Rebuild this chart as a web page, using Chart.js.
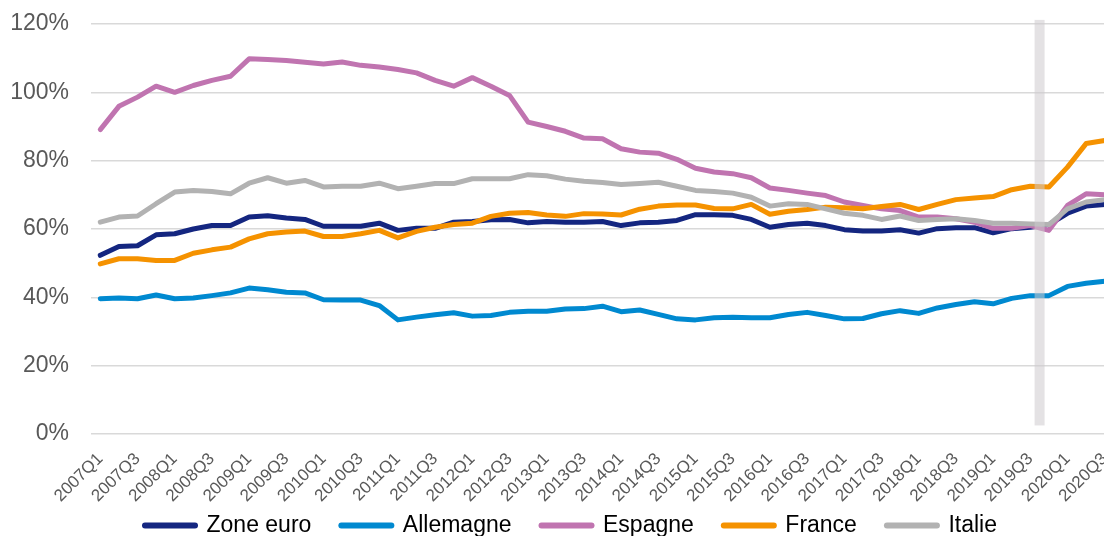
<html lang="fr">
<head>
    <meta charset="UTF-8"/>
    <title>Dette publique</title>
    <script src="https://cdn.jsdelivr.net/npm/chart.js@4.4.1/dist/chart.umd.min.js"></script>
    <style>
        html, body { margin: 0; padding: 0; background: #ffffff; overflow: hidden; }
        #wrap { position: absolute; left: 0; top: 0; }
    </style>
</head>
<body>
<div id="wrap">
    <canvas id="myChart" width="1114" height="567"></canvas>
</div>
<script>
    const quarters = [
        '2007Q1', '2007Q2', '2007Q3', '2007Q4', '2008Q1', '2008Q2', '2008Q3', '2008Q4',
        '2009Q1', '2009Q2', '2009Q3', '2009Q4', '2010Q1', '2010Q2', '2010Q3', '2010Q4',
        '2011Q1', '2011Q2', '2011Q3', '2011Q4', '2012Q1', '2012Q2', '2012Q3', '2012Q4',
        '2013Q1', '2013Q2', '2013Q3', '2013Q4', '2014Q1', '2014Q2', '2014Q3', '2014Q4',
        '2015Q1', '2015Q2', '2015Q3', '2015Q4', '2016Q1', '2016Q2', '2016Q3', '2016Q4',
        '2017Q1', '2017Q2', '2017Q3', '2017Q4', '2018Q1', '2018Q2', '2018Q3', '2018Q4',
        '2019Q1', '2019Q2', '2019Q3', '2019Q4', '2020Q1', '2020Q2', '2020Q3'
    ];

    const zoneEuro = [
        52.3, 54.9, 55.1, 58.3, 58.6, 60.0, 61.0, 61.0, 63.5, 63.9, 63.2, 62.8, 60.8, 60.8, 60.8,
        61.7, 59.6, 60.2, 60.2, 62.0, 62.2, 62.7, 62.8, 61.8, 62.2, 62.0, 62.0, 62.2, 61.0, 61.8,
        62.0, 62.5, 64.2, 64.2, 64.0, 62.8, 60.5, 61.3, 61.7, 61.0, 59.8, 59.4, 59.4, 59.8, 58.8,
        60.1, 60.4, 60.4, 58.9, 60.1, 60.5, 61.3, 64.6, 66.7, 67.2
    ];
    const allemagne = [
        39.6, 39.8, 39.6, 40.7, 39.6, 39.8, 40.5, 41.3, 42.7, 42.2, 41.5, 41.3, 39.3, 39.2, 39.2,
        37.6, 33.4, 34.2, 34.9, 35.5, 34.5, 34.7, 35.6, 35.9, 35.9, 36.6, 36.7, 37.4, 35.8, 36.3,
        35.0, 33.7, 33.4, 34.0, 34.2, 34.0, 34.0, 35.0, 35.6, 34.7, 33.7, 33.8, 35.2, 36.1, 35.3,
        36.9, 37.9, 38.7, 38.1, 39.7, 40.5, 40.5, 43.2, 44.1, 44.7
    ];
    const espagne = [
        89.1, 95.9, 98.6, 101.8, 100.0, 102.0, 103.5, 104.7, 109.8, 109.6, 109.3, 108.8, 108.3, 108.9, 107.9,
        107.4, 106.7, 105.7, 103.5, 101.8, 104.3, 101.8, 99.1, 91.3, 90.0, 88.6, 86.6, 86.4, 83.5, 82.5,
        82.2, 80.4, 77.8, 76.7, 76.2, 75.0, 72.0, 71.3, 70.5, 69.8, 67.9, 66.9, 65.9, 65.4, 63.5,
        63.5, 63.0, 62.0, 60.2, 60.2, 61.0, 59.6, 66.9, 70.3, 70.0
    ];
    const france = [
        49.8, 51.3, 51.3, 50.8, 50.8, 52.9, 53.9, 54.7, 57.1, 58.6, 59.1, 59.4, 57.8, 57.8, 58.6,
        59.6, 57.4, 59.3, 60.5, 61.3, 61.7, 63.7, 64.6, 64.8, 64.1, 63.7, 64.5, 64.4, 64.1, 65.8,
        66.7, 67.0, 67.0, 66.0, 65.9, 67.2, 64.3, 65.2, 65.7, 66.4, 66.2, 65.9, 66.6, 67.2, 65.7,
        67.2, 68.6, 69.1, 69.5, 71.5, 72.5, 72.3, 78.1, 85.0, 85.9
    ];
    const italie = [
        62.0, 63.5, 63.8, 67.4, 70.8, 71.3, 71.0, 70.3, 73.4, 75.0, 73.4, 74.2, 72.3, 72.5, 72.5,
        73.4, 71.8, 72.5, 73.3, 73.3, 74.7, 74.7, 74.7, 75.9, 75.6, 74.6, 74.0, 73.6, 73.0, 73.3,
        73.7, 72.5, 71.3, 71.0, 70.5, 69.3, 66.7, 67.4, 67.2, 65.9, 64.6, 64.0, 62.8, 63.8, 62.5,
        62.8, 63.0, 62.5, 61.7, 61.7, 61.5, 61.3, 65.9, 67.9, 68.6
    ];

    // grey marker between these two quarters (pre-covid)
    const markerBetween = ['2019Q3', '2019Q4'];

    const textGrey = '#595959';
    const font = 'Liberation Sans, Arial, sans-serif';

    function serie(label, data, color, order) {
        return {
            label: label,
            data: data,
            borderColor: color,
            backgroundColor: color,
            borderWidth: 5,
            pointRadius: 0,
            tension: 0,
            borderJoinStyle: 'round',
            borderCapStyle: 'round',
            order: order
        };
    }

    const markerBand = {
        id: 'markerBand',
        afterDatasetsDraw(chart) {
            const xs = chart.scales.x, ys = chart.scales.y;
            const a = xs.getPixelForValue(quarters.indexOf(markerBetween[0]));
            const b = xs.getPixelForValue(quarters.indexOf(markerBetween[1]));
            const cx = (a + b) / 2;
            const top = ys.getPixelForValue(121.2);
            const bottom = ys.getPixelForValue(2.5);
            const ctx = chart.ctx;
            ctx.save();
            ctx.fillStyle = 'rgba(205, 203, 205, 0.55)';
            ctx.fillRect(cx - 5, top, 10, bottom - top);
            ctx.restore();
        }
    };

    // legend sits a bit right of centre and tucked up under the axis labels
    const legendShift = {
        id: 'legendShift',
        afterLayout(chart) {
            const lg = chart.legend;
            lg.left += 14; lg.right += 14;
            lg.top -= 20; lg.bottom -= 20;
        }
    };

    const ctx = document.getElementById('myChart').getContext('2d');
    new Chart(ctx, {
        type: 'line',
        data: {
            labels: quarters,
            datasets: [
                serie('Zone euro', zoneEuro, '#142680', 5),
                serie('Allemagne', allemagne, '#0089d0', 4),
                serie('Espagne', espagne, '#c074b0', 3),
                serie('France', france, '#f59200', 2),
                serie('Italie', italie, '#b2b2b2', 1)
            ]
        },
        options: {
            responsive: false,
            animation: false,
            layout: {
                padding: { top: 24, left: 0, right: 0, bottom: 0 }
            },
            plugins: {
                tooltip: { enabled: false },
                legend: {
                    position: 'bottom',
                    labels: {
                        color: textGrey,
                        font: { family: font, size: 23 },
                        usePointStyle: true,
                        pointStyleWidth: 50,
                        boxHeight: 23,
                        padding: 30,
                        sort: (a, b) => a.datasetIndex - b.datasetIndex,
                        generateLabels(chart) {
                            return chart.data.datasets.map((ds, i) => ({
                                text: ds.label,
                                fillStyle: ds.borderColor,
                                strokeStyle: ds.borderColor,
                                lineWidth: 6,
                                lineCap: 'round',
                                pointStyle: 'line',
                                hidden: false,
                                datasetIndex: i
                            }));
                        }
                    }
                }
            },
            scales: {
                x: {
                    offset: true,
                    afterFit: (scale) => {
                        scale.height = 70;
                        scale.paddingLeft = 0;
                        scale.paddingRight = 0;
                    },
                    grid: { display: false, drawTicks: false },
                    border: { display: false },
                    ticks: {
                        autoSkip: false,
                        maxRotation: 45,
                        minRotation: 45,
                        padding: 15,
                        color: textGrey,
                        font: { family: font, size: 17 },
                        callback: function (value, index) {
                            return index % 2 === 0 ? this.getLabelForValue(value) : '';
                        }
                    }
                },
                y: {
                    min: 0,
                    max: 120,
                    afterFit: (scale) => {
                        scale.width = 91;
                        scale.paddingTop = 0;
                        scale.paddingBottom = 0;
                    },
                    grid: { color: '#d9d9d9', lineWidth: 1.6, drawTicks: false },
                    border: { display: false },
                    ticks: {
                        stepSize: 20,
                        padding: 22,
                        color: textGrey,
                        font: { family: font, size: 23 },
                        callback: (v) => v + '%'
                    }
                }
            }
        },
        plugins: [markerBand, legendShift]
    });
</script>
</body>
</html>
